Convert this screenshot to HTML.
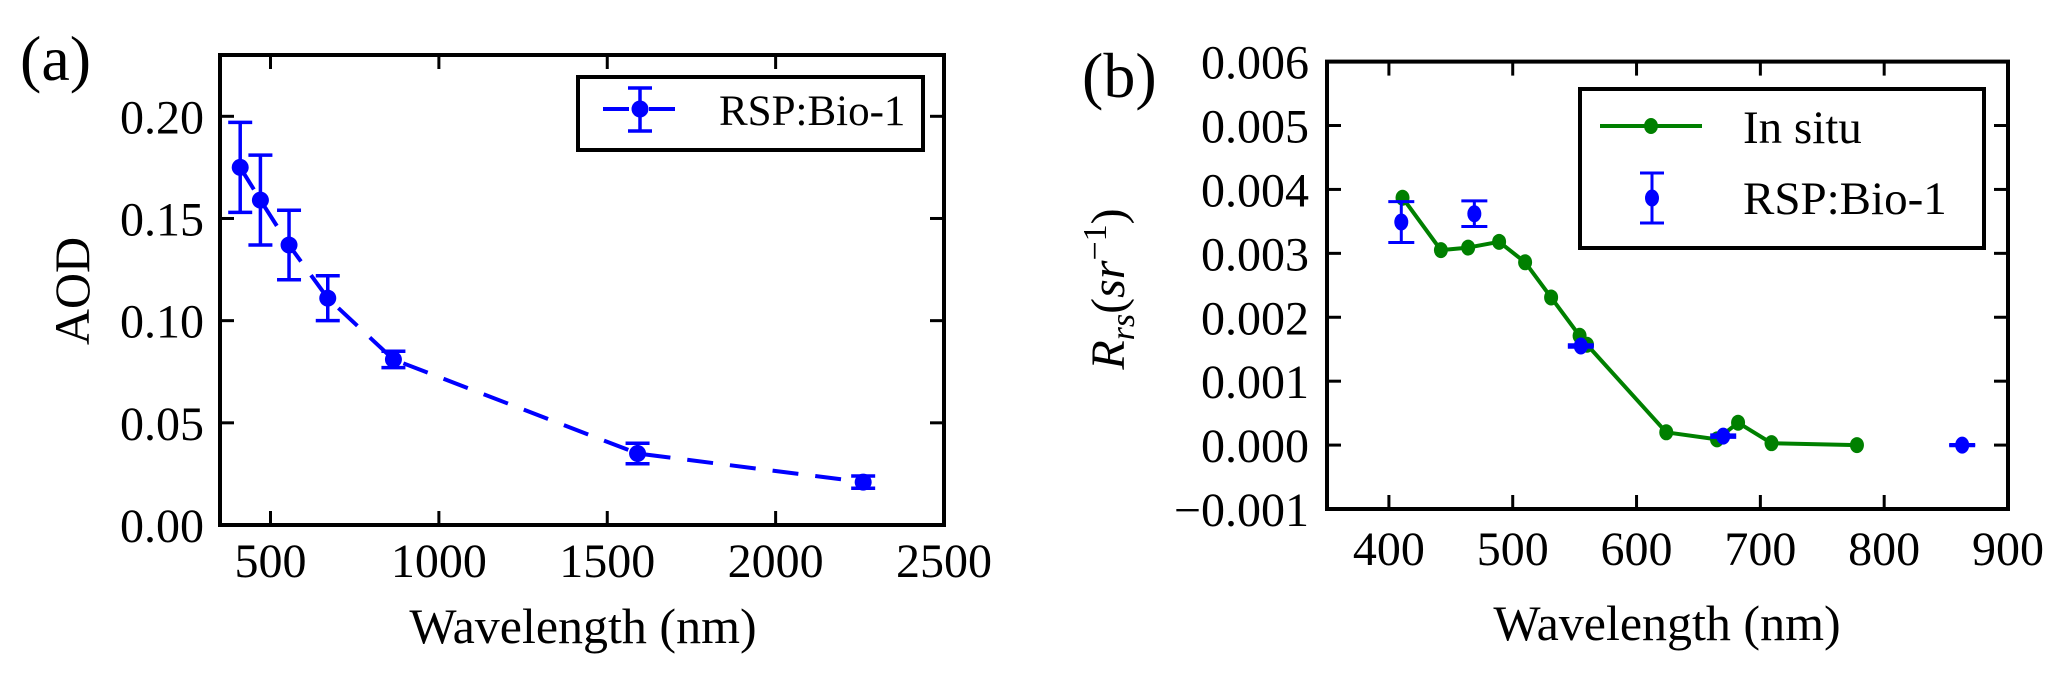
<!DOCTYPE html>
<html><head><meta charset="utf-8">
<style>
html,body{margin:0;padding:0;background:#fff;}
svg{display:block;font-family:"Liberation Serif",serif;}
text{font-family:"Liberation Serif",serif;}
</style></head>
<body>
<svg id="fig" width="2067" height="676" viewBox="0 0 2067 676" xmlns="http://www.w3.org/2000/svg" font-family="Liberation Serif, serif">
<g id="pa"></g>
<g id="pb"></g>
</svg>
<script>
// Panel (a) data
const aWave = [410, 470, 555, 670, 865, 1590, 2260];
const aAod = [0.175, 0.159, 0.137, 0.111, 0.081, 0.035, 0.021];
const aErr = [0.022, 0.022, 0.017, 0.011, 0.004, 0.005, 0.003];
const aXTicks = [500, 1000, 1500, 2000, 2500];
const aYTicks = [0.00, 0.05, 0.10, 0.15, 0.20];
// Panel (b) data
const bInsituWave = [411, 442, 464, 489, 510, 531, 554, 560, 624, 665, 682, 709, 778];
const bInsituVal = [0.00387, 0.00305, 0.00309, 0.00318, 0.00286, 0.00231, 0.00171, 0.00157, 0.00020, 0.00009, 0.00035, 0.00003, 0.00000];
const bRspWave = [410, 469, 555, 670, 863];
const bRspVal = [0.00349, 0.00362, 0.00155, 0.00014, 0.00000];
const bRspErr = [0.00032, 0.00020, 0.00002, 0.00002, 0.00001];
const bXTicks = [400, 500, 600, 700, 800, 900];
const bYTicks = [-0.001, 0.000, 0.001, 0.002, 0.003, 0.004, 0.005, 0.006];

const NS = "http://www.w3.org/2000/svg";
const FONT = "Liberation Serif, serif";
function mk(parent, tag, attrs, text){
  const e = document.createElementNS(NS, tag);
  for (const k in attrs) e.setAttribute(k, attrs[k]);
  if (tag === 'text') e.setAttribute('font-family', FONT);
  if (text !== undefined) e.textContent = text;
  parent.appendChild(e);
  return e;
}
function lin(d0, d1, r0, r1){ return v => r0 + (v - d0) / (d1 - d0) * (r1 - r0); }

// ---------- Panel A ----------
const pa = document.getElementById('pa');
const A = {l:220, r:944, t:55, b:525};
const ax = lin(350, 2500, A.l, A.r);
const ay = lin(0, 0.23, A.b, A.t);

aXTicks.forEach(v => {
  const x = ax(v);
  let t = mk(pa, 'line', {x1:x, x2:x, y1:A.b, y2:A.b-14, stroke:'#000','stroke-width':3});
  
  
  t = mk(pa, 'line', {x1:x, x2:x, y1:A.t, y2:A.t+14, stroke:'#000','stroke-width':3});
  
  
  const lb = mk(pa, 'text', {x:x, y:577, 'font-size':48, 'text-anchor':'middle'}, String(v));
  
  
});
aYTicks.forEach(v => {
  const y = ay(v);
  let t = mk(pa, 'line', {x1:A.l, x2:A.l+14, y1:y, y2:y, stroke:'#000','stroke-width':3});
  
  
  t = mk(pa, 'line', {x1:A.r, x2:A.r-14, y1:y, y2:y, stroke:'#000','stroke-width':3});
  
  
  const lb = mk(pa, 'text', {x:A.l-16, y:y+17, 'font-size':48, 'text-anchor':'end'}, v.toFixed(2));
  
  
});
const aPts = aWave.map((w,i) => ax(w)+','+ay(aAod[i])).join(' ');
const aLine = mk(pa, 'polyline', {points:aPts, fill:'none', stroke:'#0000ff', 'stroke-width':4, 'stroke-dasharray':'26,17'});


aWave.forEach((w,i) => {
  const x = ax(w), y = ay(aAod[i]), y1 = ay(aAod[i]+aErr[i]), y2 = ay(aAod[i]-aErr[i]);
  const g = mk(pa, 'g', {});
  
  
  mk(g, 'line', {x1:x, x2:x, y1:y1, y2:y2, stroke:'#0000ff', 'stroke-width':3.5});
  mk(g, 'line', {x1:x-12, x2:x+12, y1:y1, y2:y1, stroke:'#0000ff', 'stroke-width':3.5});
  mk(g, 'line', {x1:x-12, x2:x+12, y1:y2, y2:y2, stroke:'#0000ff', 'stroke-width':3.5});
  mk(g, 'circle', {cx:x, cy:y, r:8.5, fill:'#0000ff'});
});
const aFrame = mk(pa, 'rect', {x:A.l, y:A.t, width:A.r-A.l, height:A.b-A.t, fill:'none', stroke:'#000', 'stroke-width':4});



// ---------- Panel B ----------
const pb = document.getElementById('pb');
const B = {l:1327, r:2008, t:61.6, b:509};
const bx = lin(350, 900, B.l, B.r);
const by = lin(-0.001, 0.006, B.b, B.t);
bXTicks.forEach(v => {
  const x = bx(v);
  let t = mk(pb, 'line', {x1:x, x2:x, y1:B.b, y2:B.b-14, stroke:'#000','stroke-width':3});
  
  
  t = mk(pb, 'line', {x1:x, x2:x, y1:B.t, y2:B.t+14, stroke:'#000','stroke-width':3});
  
  
  const lb = mk(pb, 'text', {x:x, y:565, 'font-size':48, 'text-anchor':'middle'}, String(v));
  
  
});
bYTicks.forEach(v => {
  const y = by(v);
  let t = mk(pb, 'line', {x1:B.l, x2:B.l+14, y1:y, y2:y, stroke:'#000','stroke-width':3});
  
  
  t = mk(pb, 'line', {x1:B.r, x2:B.r-14, y1:y, y2:y, stroke:'#000','stroke-width':3});
  
  
  const s = (v < 0 ? '\u2212' : '') + Math.abs(v).toFixed(3);
  const lb = mk(pb, 'text', {x:B.l-18, y:y+17, 'font-size':48, 'text-anchor':'end'}, s);
  
  
});
const bPts = bInsituWave.map((w,i) => bx(w)+','+by(bInsituVal[i])).join(' ');
const bLine = mk(pb, 'polyline', {points:bPts, fill:'none', stroke:'#008000', 'stroke-width':4, 'stroke-linejoin':'round'});


bInsituWave.forEach((w,i) => {
  const c = mk(pb, 'ellipse', {cx:bx(w), cy:by(bInsituVal[i]), rx:7, ry:8, fill:'#008000'});
  
  
});
bRspWave.forEach((w,i) => {
  const x = bx(w), y = by(bRspVal[i]), y1 = by(bRspVal[i]+bRspErr[i]), y2 = by(bRspVal[i]-bRspErr[i]);
  const g = mk(pb, 'g', {});
  
  
  mk(g, 'line', {x1:x, x2:x, y1:y1, y2:y2, stroke:'#0000ff', 'stroke-width':3});
  mk(g, 'line', {x1:x-13, x2:x+13, y1:y1, y2:y1, stroke:'#0000ff', 'stroke-width':3});
  mk(g, 'line', {x1:x-13, x2:x+13, y1:y2, y2:y2, stroke:'#0000ff', 'stroke-width':3});
  mk(g, 'ellipse', {cx:x, cy:y, rx:7, ry:8.5, fill:'#0000ff'});
});
const bFrame = mk(pb, 'rect', {x:B.l, y:B.t, width:B.r-B.l, height:B.b-B.t, fill:'none', stroke:'#000', 'stroke-width':4});


</script>
<svg width="2067" height="676" viewBox="0 0 2067 676" font-family="Liberation Serif, serif" style="position:absolute;left:0;top:0;font-family:'Liberation Serif',serif">
  <text x="20" y="80" font-size="64">(a)</text>
  <text x="1082" y="97" font-size="64">(b)</text>
  <text x="583" y="643" font-size="50" text-anchor="middle">Wavelength (nm)</text>
  <text x="1667" y="640" font-size="50" text-anchor="middle">Wavelength (nm)</text>
  <text transform="translate(89,291) rotate(-90)" font-size="50" text-anchor="middle">AOD</text>
  <text transform="translate(1124,289) rotate(-90)" font-size="48" text-anchor="middle"><tspan font-style="italic">R</tspan><tspan font-style="italic" font-size="34" dy="10">rs</tspan><tspan dy="-10">(</tspan><tspan font-style="italic">sr</tspan><tspan font-size="34" dy="-18">−1</tspan><tspan dy="18">)</tspan></text>
  <g>
    <rect x="578" y="77" width="345" height="73" fill="#fff" stroke="#000" stroke-width="4"/>
    <line x1="603" y1="109" x2="675" y2="109" stroke="#0000ff" stroke-width="4" stroke-dasharray="26,20"/>
    <line x1="640" y1="88" x2="640" y2="131" stroke="#0000ff" stroke-width="3.5"/>
    <line x1="628" y1="88" x2="652" y2="88" stroke="#0000ff" stroke-width="3.5"/>
    <line x1="628" y1="131" x2="652" y2="131" stroke="#0000ff" stroke-width="3.5"/>
    <circle cx="640" cy="109" r="8.5" fill="#0000ff"/>
    <text x="719" y="125" font-size="43">RSP:Bio-1</text>
  </g>
  <g>
    <rect x="1580" y="89" width="404" height="159" fill="#fff" stroke="#000" stroke-width="4"/>
    <line x1="1600" y1="126" x2="1702" y2="126" stroke="#008000" stroke-width="4"/>
    <ellipse cx="1651" cy="126" rx="7" ry="8" fill="#008000"/>
    <text x="1743" y="143" font-size="47">In situ</text>
    <line x1="1652" y1="173" x2="1652" y2="223" stroke="#0000ff" stroke-width="3"/>
    <line x1="1640" y1="173" x2="1664" y2="173" stroke="#0000ff" stroke-width="3"/>
    <line x1="1640" y1="223" x2="1664" y2="223" stroke="#0000ff" stroke-width="3"/>
    <ellipse cx="1652" cy="198" rx="7" ry="8.5" fill="#0000ff"/>
    <text x="1743" y="214" font-size="47">RSP:Bio-1</text>
  </g>
</svg>
</body></html>
